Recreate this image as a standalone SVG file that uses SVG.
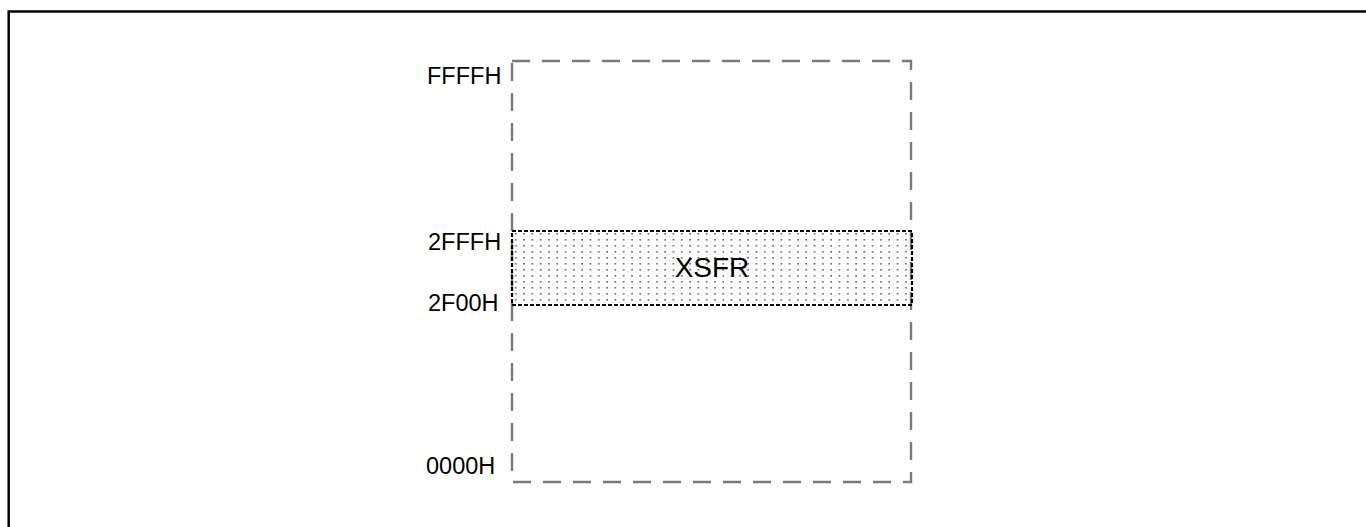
<svg xmlns="http://www.w3.org/2000/svg" width="1366" height="527" viewBox="0 0 1366 527">
  <defs>
    <pattern id="dots" x="512" y="231" width="8.3" height="6" patternUnits="userSpaceOnUse">
      <rect x="3" y="2" width="1.6" height="1.6" fill="#666"/>
      <rect x="7.2" y="4.5" width="0.8" height="1" fill="#ccc"/>
    </pattern>
  </defs>
  <style>
    .lbl { font-family: "Liberation Sans", Arial, sans-serif; font-size: 23.5px; fill: #000; }
    .big { font-family: "Liberation Sans", Arial, sans-serif; font-size: 28px; fill: #000; text-anchor: middle; }
    .mem { fill: none; stroke: #7a7a7a; stroke-width: 2.4; stroke-dasharray: 18 12; }
    .xsfr { fill: url(#dots); stroke: #000; stroke-width: 2.2; stroke-dasharray: 4 2; }
  </style>
  <rect x="0" y="0" width="1366" height="527" fill="#fff"/>
  <rect x="8.7" y="11.5" width="1500" height="700" fill="none" stroke="#000" stroke-width="2.5"/>
  <g id="memory">
    <rect class="mem" x="512" y="61" width="399" height="421"/>
  </g>
  <g id="xsfr">
    <rect class="xsfr" x="512" y="231" width="400" height="74"/>
    <text class="big" x="712" y="277">XSFR</text>
  </g>
  <g id="labels">
    <text class="lbl" x="427" y="84">FFFFH</text>
    <text class="lbl" x="428" y="250">2FFFH</text>
    <text class="lbl" x="428" y="311">2F00H</text>
    <text class="lbl" x="426" y="474">0000H</text>
  </g>
  <g id="connectors"/>
</svg>
